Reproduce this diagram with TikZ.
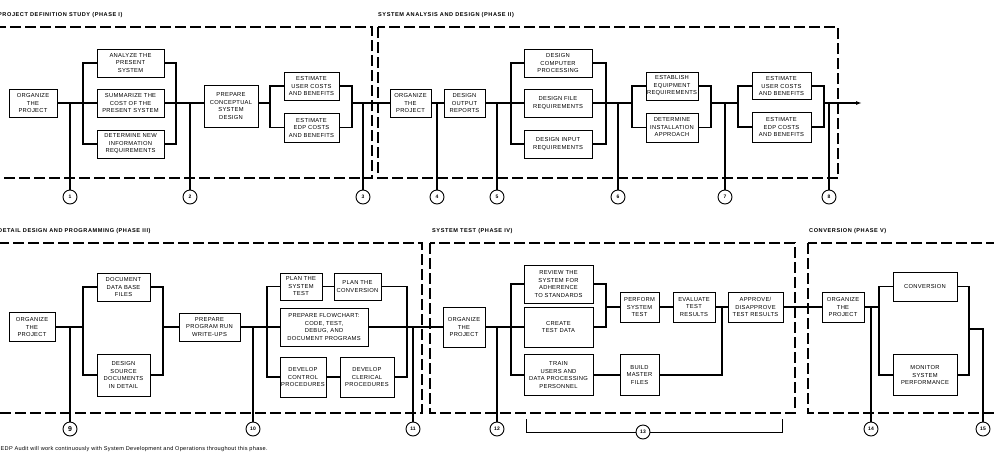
\documentclass[tikz,border=0pt]{standalone}
\usepackage{fontspec}
\setmainfont{Liberation Sans}
\newfontfamily\bxfont[LetterSpace=5]{Liberation Sans}
\newfontfamily\ttlfont[LetterSpace=10]{Liberation Sans}
\newfontfamily\fnfont[LetterSpace=5]{Liberation Sans}
\usetikzlibrary{arrows.meta}
\newcommand\mybox[5]{\node[box,minimum width=#4pt,minimum height=#5pt] (#1) at #2 {#3};}
\begin{document}
\begin{tikzpicture}[x=1pt,y=-1pt,
  box/.style={draw,line width=0.9pt,align=center,inner sep=0pt,font=\bxfont\fontsize{5.8}{7.5}\selectfont},
  ln/.style={line width=1.2pt},
  phase/.style={line width=1.2pt,dash pattern=on 11pt off 4pt},
  circ/.style={circle,draw,line width=0.9pt,minimum size=14pt,inner sep=0pt,font=\bfseries\fontsize{5}{5}\selectfont},
  ttl/.style={inner sep=0pt,font=\ttlfont\bfseries\fontsize{5.6}{6}\selectfont},
  fnote/.style={inner sep=0pt,font=\fnfont\fontsize{5.6}{6}\selectfont}]
\useasboundingbox (0,0) rectangle (994,456);
\clip (0,0) rectangle (994,456);
\fill[white] (0,0) rectangle (994,456);

% phase frames
\draw[phase] (-10,27) rectangle (372,178);
\draw[phase] (378,27) rectangle (838,178);
\draw[phase] (-10,243) rectangle (422,413);
\draw[phase] (430,243) rectangle (795,413);
\draw[phase] (808,243) rectangle (1010,413);

% titles
\node[ttl,anchor=west] (t1) at (-2,15) {PROJECT DEFINITION STUDY (PHASE I)};
\node[ttl,anchor=west] (t2) at (378,15) {SYSTEM ANALYSIS AND DESIGN (PHASE II)};
\node[ttl,anchor=west] (t3) at (-2,231) {DETAIL DESIGN AND PROGRAMMING (PHASE III)};
\node[ttl,anchor=west] (t4) at (432,231) {SYSTEM TEST (PHASE IV)};
\node[ttl,anchor=west] (t5) at (809,231) {CONVERSION (PHASE V)};
\node[fnote,anchor=west] (fn) at (0.5,449) {EDP Audit will work continuously with System Development and Operations throughout this phase.};

% ---------- top row boxes
\mybox{org1}{(33,103)}{ORGANIZE\\THE\\PROJECT}{48}{28}
\mybox{an}{(130.5,63)}{ANALYZE THE\\PRESENT\\SYSTEM}{67}{28}
\mybox{su}{(130.5,103)}{SUMMARIZE THE\\COST OF THE\\PRESENT SYSTEM}{67}{28}
\mybox{dn}{(130.5,144)}{DETERMINE NEW\\INFORMATION\\REQUIREMENTS}{67}{28}
\mybox{pc}{(231,106)}{PREPARE\\CONCEPTUAL\\SYSTEM\\DESIGN}{54}{42}
\mybox{eua}{(311.5,86)}{ESTIMATE\\USER COSTS\\AND BENEFITS}{55}{28}
\mybox{eea}{(311.5,127.5)}{ESTIMATE\\EDP COSTS\\AND BENEFITS}{55}{29}
\mybox{org2}{(410.5,103)}{ORGANIZE\\THE\\PROJECT}{41}{28}
\mybox{dor}{(464.5,103)}{DESIGN\\OUTPUT\\REPORTS}{41}{28}
\mybox{dcp}{(558,63)}{DESIGN\\COMPUTER\\PROCESSING}{68}{28}
\mybox{dfr}{(558,103)}{DESIGN FILE\\REQUIREMENTS}{68}{28}
\mybox{dir}{(558,144)}{DESIGN INPUT\\REQUIREMENTS}{68}{28}
\mybox{eer}{(672,86)}{ESTABLISH\\EQUIPMENT\\REQUIREMENTS}{52}{28}
\mybox{dia}{(672,127.5)}{DETERMINE\\INSTALLATION\\APPROACH}{52}{29}
\mybox{eub}{(781.5,86)}{ESTIMATE\\USER COSTS\\AND BENEFITS}{59}{27}
\mybox{eeb}{(781.5,127)}{ESTIMATE\\EDP COSTS\\AND BENEFITS}{59}{30}

% top row points
\coordinate (b1L) at (83,103);  \coordinate (b1R) at (176,103);
\coordinate (b2L) at (270,103); \coordinate (b2R) at (352,103);
\coordinate (b3L) at (511,103); \coordinate (b3R) at (606,103);
\coordinate (b4L) at (632,103); \coordinate (b4R) at (711,103);
\coordinate (b5L) at (738,103); \coordinate (b5R) at (824,103);
\coordinate (arr) at (862,103);
\coordinate (j1) at (70,103);  \coordinate (j2) at (190,103);
\coordinate (j3) at (363,103); \coordinate (j4) at (437,103);
\coordinate (j5) at (497,103); \coordinate (j6) at (618,103);
\coordinate (j7) at (725,103); \coordinate (j8) at (829,103);

\node[circ] (c1) at (70,197) {1};
\node[circ] (c2) at (190,197) {2};
\node[circ] (c3) at (363,197) {3};
\node[circ] (c4) at (437,197) {4};
\node[circ] (c5) at (497,197) {5};
\node[circ] (c6) at (618,197) {6};
\node[circ] (c7) at (725,197) {7};
\node[circ] (c8) at (829,197) {8};

\draw[ln] (org1.east) -- (b1L);
\draw[ln] (an.west) -| (b1L); \draw[ln] (dn.west) -| (b1L); \draw[ln] (su.west) -- (b1L);
\draw[ln] (an.east) -| (b1R); \draw[ln] (dn.east) -| (b1R); \draw[ln] (su.east) -- (b1R);
\draw[ln] (b1R) -- (b1R -| pc.west);
\draw[ln] (b2L -| pc.east) -- (b2L);
\draw[ln] (eua.west) -| (b2L); \draw[ln] (eea.west) -| (b2L);
\draw[ln] (eua.east) -| (b2R); \draw[ln] (eea.east) -| (b2R);
\draw[ln] (b2R) -- (org2.west);
\draw[ln] (org2.east) -- (dor.west);
\draw[ln] (dor.east) -- (b3L);
\draw[ln] (dcp.west) -| (b3L); \draw[ln] (dir.west) -| (b3L); \draw[ln] (dfr.west) -- (b3L);
\draw[ln] (dcp.east) -| (b3R); \draw[ln] (dir.east) -| (b3R); \draw[ln] (dfr.east) -- (b3R);
\draw[ln] (b3R) -- (b4L);
\draw[ln] (eer.west) -| (b4L); \draw[ln] (dia.west) -| (b4L);
\draw[ln] (eer.east) -| (b4R); \draw[ln] (dia.east) -| (b4R);
\draw[ln] (b4R) -- (b5L);
\draw[ln] (eub.west) -| (b5L); \draw[ln] (eeb.west) -| (b5L);
\draw[ln] (eub.east) -| (b5R); \draw[ln] (eeb.east) -| (b5R);
\draw[ln,-{Latex[length=6pt,width=4pt]}] (b5R) -- (arr);
\foreach \i in {1,...,8} {\draw[ln] (j\i) -- (c\i);}

% ---------- bottom row boxes
\mybox{org3}{(32,327)}{ORGANIZE\\THE\\PROJECT}{46}{29}
\mybox{ddb}{(123.5,287)}{DOCUMENT\\DATA BASE\\FILES}{53}{28}
\mybox{dsd}{(123.5,375)}{DESIGN\\SOURCE\\DOCUMENTS\\IN DETAIL}{53}{42}
\mybox{ppr}{(209.5,327)}{PREPARE\\PROGRAM RUN\\WRITE-UPS}{61}{28}
\mybox{pst}{(301,286.5)}{PLAN THE\\SYSTEM\\TEST}{42}{27}
\mybox{pcv}{(357.5,286.5)}{PLAN THE\\CONVERSION}{47}{27}
\mybox{pfc}{(324,327)}{PREPARE FLOWCHART:\\CODE, TEST,\\DEBUG, AND\\DOCUMENT PROGRAMS}{88}{38}
\mybox{dcc}{(303,377)}{DEVELOP\\CONTROL\\PROCEDURES}{46}{40}
\mybox{dcl}{(367,377)}{DEVELOP\\CLERICAL\\PROCEDURES}{54}{40}
\mybox{org4}{(464,327)}{ORGANIZE\\THE\\PROJECT}{42}{40}
\mybox{rev}{(558.5,284)}{REVIEW THE\\SYSTEM FOR\\ADHERENCE\\TO STANDARDS}{69}{38}
\mybox{ctd}{(558.5,327)}{CREATE\\TEST DATA}{69}{40}
\mybox{trn}{(558.5,375)}{TRAIN\\USERS AND\\DATA PROCESSING\\PERSONNEL}{69}{41}
\mybox{pfs}{(639.5,307)}{PERFORM\\SYSTEM\\TEST}{39}{30}
\mybox{etr}{(694,307)}{EVALUATE\\TEST\\RESULTS}{42}{30}
\mybox{bmf}{(639.5,375)}{BUILD\\MASTER\\FILES}{39}{41}
\mybox{app}{(755.5,307)}{APPROVE/\\DISAPPROVE\\TEST RESULTS}{55}{30}
\mybox{org5}{(843,307)}{ORGANIZE\\THE\\PROJECT}{42}{30}
\mybox{cnv}{(925,286.5)}{CONVERSION}{64}{29}
\mybox{msp}{(925,375)}{MONITOR\\SYSTEM\\PERFORMANCE}{64}{41}

\coordinate (b6L) at (83,327);  \coordinate (b6R) at (163,327);
\coordinate (b7L) at (267,327); \coordinate (b7R) at (407,327);
\coordinate (b8L) at (511,327); \coordinate (b8R) at (606,307);
\coordinate (j13) at (722,307);
\coordinate (b9L) at (879,307); \coordinate (b9R) at (969,329);
\coordinate (j9) at (70,327);   \coordinate (j10) at (253,327);
\coordinate (j11) at (413,327); \coordinate (j12) at (497,327);
\coordinate (j14) at (871,307);
\coordinate (k1) at (526,419);  \coordinate (k2) at (782,419);

\node[circ,font=\bfseries\fontsize{7}{7}\selectfont] (c9) at (70,429) {9};
\node[circ] (c10) at (253,429) {10};
\node[circ] (c11) at (413,429) {11};
\node[circ] (c12) at (497,429) {12};
\node[circ] (c13) at (643,432) {13};
\node[circ] (c14) at (871,429) {14};
\node[circ] (c15) at (983,429) {15};

\draw[ln] (org3.east) -- (b6L);
\draw[ln] (ddb.west) -| (b6L); \draw[ln] (dsd.west) -| (b6L);
\draw[ln] (ddb.east) -| (b6R); \draw[ln] (dsd.east) -| (b6R);
\draw[ln] (b6R) -- (ppr.west);
\draw[ln] (ppr.east) -- (b7L);
\draw[ln] (pst.west) -| (b7L); \draw[ln] (dcc.west) -| (b7L); \draw[ln] (pfc.west) -- (b7L);
\draw[ln] (pst.east) -- (pcv.west); \draw[ln] (dcc.east) -- (dcl.west);
\draw[ln] (pcv.east) -| (b7R); \draw[ln] (dcl.east) -| (b7R); \draw[ln] (pfc.east) -- (b7R);
\draw[ln] (b7R) -- (org4.west);
\draw[ln] (org4.east) -- (b8L);
\draw[ln] (rev.west) -| (b8L); \draw[ln] (trn.west) -| (b8L); \draw[ln] (ctd.west) -- (b8L);
\draw[ln] (rev.east) -| (b8R); \draw[ln] (ctd.east) -| (b8R);
\draw[ln] (b8R) -- (pfs.west);
\draw[ln] (pfs.east) -- (etr.west);
\draw[ln] (etr.east) -- (app.west);
\draw[ln] (trn.east) -- (bmf.west);
\draw[ln] (bmf.east) -| (j13);
\draw[ln] (app.east) -- (org5.west);
\draw[ln] (org5.east) -- (b9L);
\draw[ln] (cnv.west) -| (b9L); \draw[ln] (msp.west) -| (b9L);
\draw[ln] (cnv.east) -| (b9R); \draw[ln] (msp.east) -| (b9R);
\draw[ln] (b9R) -| (c15);
\foreach \i in {9,10,11,12,14} {\draw[ln] (j\i) -- (c\i);}
\draw[line width=0.9pt] (k1) |- (c13);
\draw[line width=0.9pt] (k2) |- (c13);
\end{tikzpicture}
\end{document}
